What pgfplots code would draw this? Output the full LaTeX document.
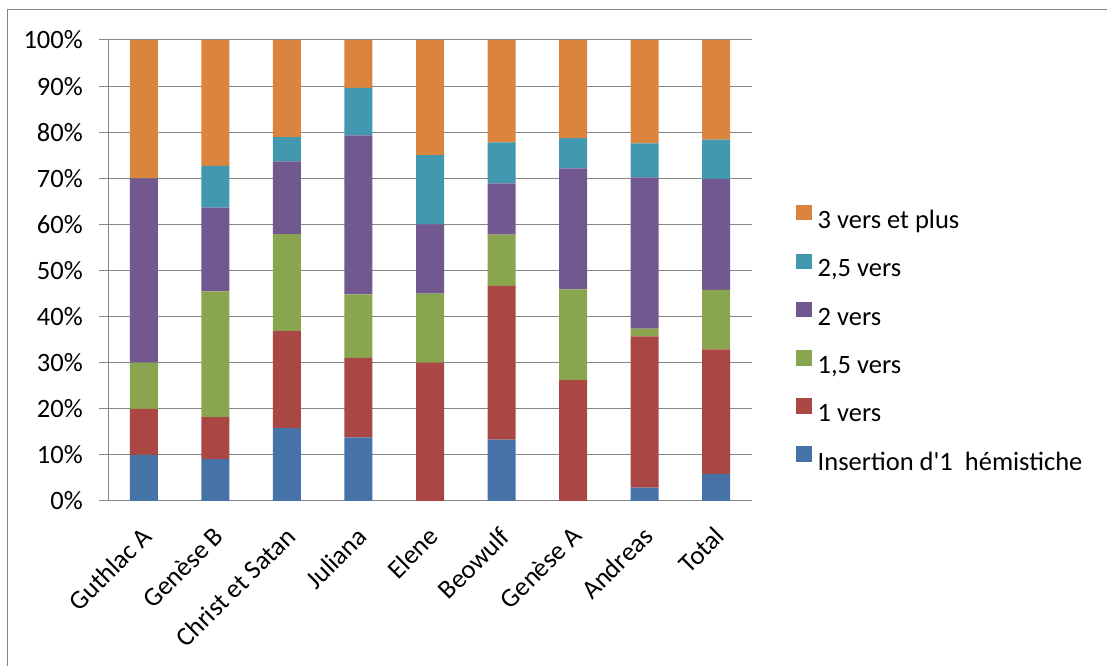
\documentclass[border=0pt]{standalone}
\usepackage{fontspec}
\setmainfont{Carlito}[Ligatures=TeXOff]
\usepackage{pgfplots}
\usepackage{pgfplotstable}
\pgfplotsset{compat=1.18}

\definecolor{cIns}{RGB}{69,114,167}
\definecolor{cUn}{RGB}{170,70,67}
\definecolor{cUnDemi}{RGB}{137,165,78}
\definecolor{cDeux}{RGB}{113,88,143}
\definecolor{cDeuxDemi}{RGB}{65,152,175}
\definecolor{cTrois}{RGB}{219,132,61}
\definecolor{lignes}{RGB}{134,134,134}

\newcommand{\lbl}{\fontsize{26.5}{31}\selectfont}

% insertion, 1 vers, 1,5 vers, 2 vers, 2,5 vers, 3 vers et plus (en %)
\pgfplotstableread{
x ins  un    undemi deux  deuxdemi trois
0 10.00 10.00 10.00 40.00  0.00 30.00
1  9.09  9.09 27.27 18.18  9.09 27.27
2 15.79 21.05 21.05 15.79  5.26 21.05
3 13.79 17.24 13.79 34.48 10.34 10.34
4  0.00 30.00 15.00 15.00 15.00 25.00
5 13.33 33.33 11.11 11.11  8.89 22.22
6  0.00 26.23 19.67 26.23  6.56 21.31
7  2.90 32.80  1.70 32.80  7.40 22.40
8  5.90 27.00 12.90 24.10  8.50 21.60
}\donnees

\pgfplotsset{
  sq/.style={fill=#1, draw=none,
    legend image code/.code={\fill[##1] (0pt,0pt) rectangle (15.5pt,15.5pt);}},
}

\begin{document}
\begin{tikzpicture}
\useasboundingbox (0pt,0pt) rectangle (1107pt,666pt);
\draw[lignes, line width=1pt] (7pt,0pt) -- (7pt,656pt) -- (1107pt,656pt);
\begin{axis}[
    at={(108pt,165pt)}, anchor=south west,
    scale only axis,
    width=644pt, height=461pt,
    ybar stacked, bar width=28pt,
    xmin=-0.5, xmax=8.5,
    ymin=0, ymax=100,
    axis x line*=bottom, axis y line*=left,
    axis line style={lignes, line width=1pt, -},
    xtick={0,...,8},
    xticklabels={Guthlac A,Genèse B,Christ et Satan,Juliana,Elene,Beowulf,Genèse A,Andreas,Total},
    xtick style={draw=none},
    minor xtick={-0.5,0.5,...,8.5},
    minor tick length=9pt,
    minor x tick style={lignes, line width=1pt},
    ytick={0,10,...,100},
    yticklabel={\pgfmathprintnumber{\tick}\%},
    ytick style={lignes, line width=1pt},
    major tick length=9pt,
    tick align=outside,
    ymajorgrids=true,
    major grid style={lignes, line width=1pt},
    /pgf/number format/assume math mode=true,
    tick label style={font=\lbl, inner sep=0pt},
    yticklabel style={anchor=east, xshift=-16pt},
    xticklabel style={xshift=-3pt, yshift=-15pt, rotate=45, anchor=north east},
    legend style={at={(1.0683,0.353)}, anchor=west, draw=none, fill=none,
      font=\lbl, row sep=23.4pt, column sep=6pt, inner sep=0pt,
      nodes={inner sep=0pt}},
    legend cell align=left,
    reverse legend,
]
\addplot+[sq=cIns] table[x=x,y=ins] {\donnees};
\addplot+[sq=cUn] table[x=x,y=un] {\donnees};
\addplot+[sq=cUnDemi] table[x=x,y=undemi] {\donnees};
\addplot+[sq=cDeux] table[x=x,y=deux] {\donnees};
\addplot+[sq=cDeuxDemi] table[x=x,y=deuxdemi] {\donnees};
\addplot+[sq=cTrois] table[x=x,y=trois] {\donnees};
\legend{Insertion d'1\ \ hémistiche,1 vers,{1,5 vers},2 vers,{2,5 vers},3 vers et plus}
\end{axis}
\end{tikzpicture}
\end{document}
